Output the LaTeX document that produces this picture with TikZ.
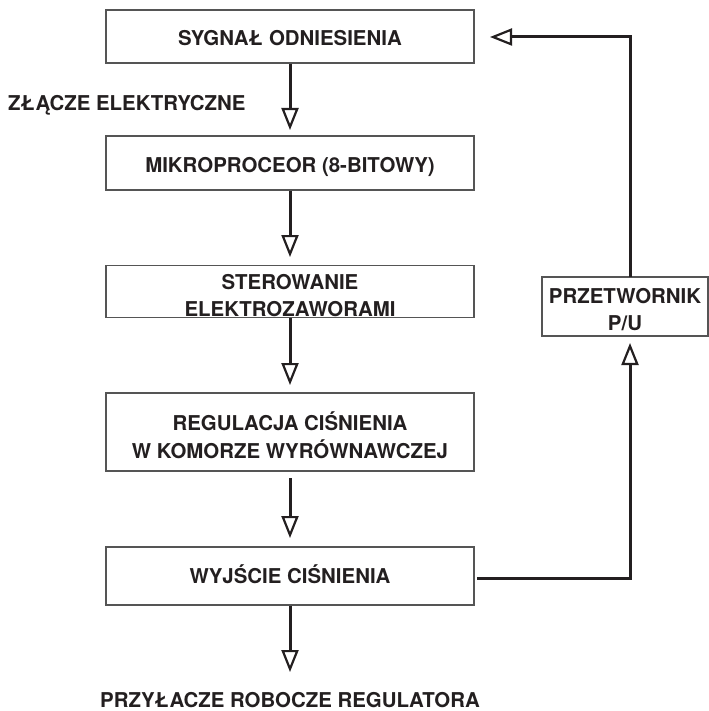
\documentclass[tikz,border=0pt]{standalone}
\usepackage{fontspec}
\setmainfont{TeX Gyre Heros}
\usetikzlibrary{arrows.meta}
\definecolor{ink}{HTML}{231F20}
\definecolor{frame}{HTML}{555555}
\begin{document}
\begin{tikzpicture}[x=1bp,y=-1bp,
  box/.style={draw=frame, line width=1.4bp, minimum width=368bp, text=ink,
    font=\fontsize{20.5}{27.5}\selectfont\bfseries, align=center, inner sep=0pt,
    text depth=0bp},
  flow/.style={draw=ink, line width=3bp,
    -{Triangle[open,length=22bp,width=17bp,line width=2.2bp]}},
  lbl/.style={text=ink, font=\fontsize{20.5}{24}\selectfont\bfseries, inner sep=0pt}]
\useasboundingbox (0,0) rectangle (709,711);
\node[box, minimum height=53bp, text height=17.7bp] (b1) at (290,36.5) {SYGNAŁ ODNIESIENIA};
\node[box, minimum height=54bp, text height=19.7bp] (b2) at (290,163) {MIKROPROCEOR (8-BITOWY)};
\node[box, minimum height=52bp, text height=50.2bp] (b3) at (290,291.7) {STEROWANIE\\ELEKTROZAWORAMI};
\node[box, minimum height=78bp, text height=52.2bp] (b4) at (290,432) {REGULACJA CIŚNIENIA\\W KOMORZE WYRÓWNAWCZEJ};
\node[box, minimum height=58bp, text height=15bp] (b5) at (290,576) {WYJŚCIE CIŚNIENIA};
\node[box, minimum width=166bp, minimum height=59bp, text height=48.2bp] (b6) at (625,306.5) {PRZETWORNIK\\P/U};
\node[lbl, anchor=west] (l1) at (8,105) {ZŁĄCZE ELEKTRYCZNE};
\node[lbl] (l2) at (290,700) {PRZYŁACZE ROBOCZE REGULATORA};
\coordinate (t1) at (290,130);
\coordinate (t2) at (290,257);
\coordinate (t3) at (290,385);
\coordinate (s4) at (290,478);
\coordinate (t4) at (290,538);
\coordinate (t5) at (290,672);
\coordinate (f0) at (477,578);
\coordinate (f1) at (630,578);
\coordinate (f2) at (630,343);
\coordinate (g0) at (630,277);
\coordinate (g1) at (630,37);
\coordinate (g2) at (490,37);
\draw[flow] (b1) -- (t1);
\draw[flow] (b2) -- (t2);
\draw[flow] (b3) -- (t3);
\draw[flow] (s4) -- (t4);
\draw[flow] (b5) -- (t5);
\draw[flow] (f0) -- (f1) -- (f2);
\draw[flow] (g0) -- (g1) -- (g2);
\end{tikzpicture}
\end{document}
